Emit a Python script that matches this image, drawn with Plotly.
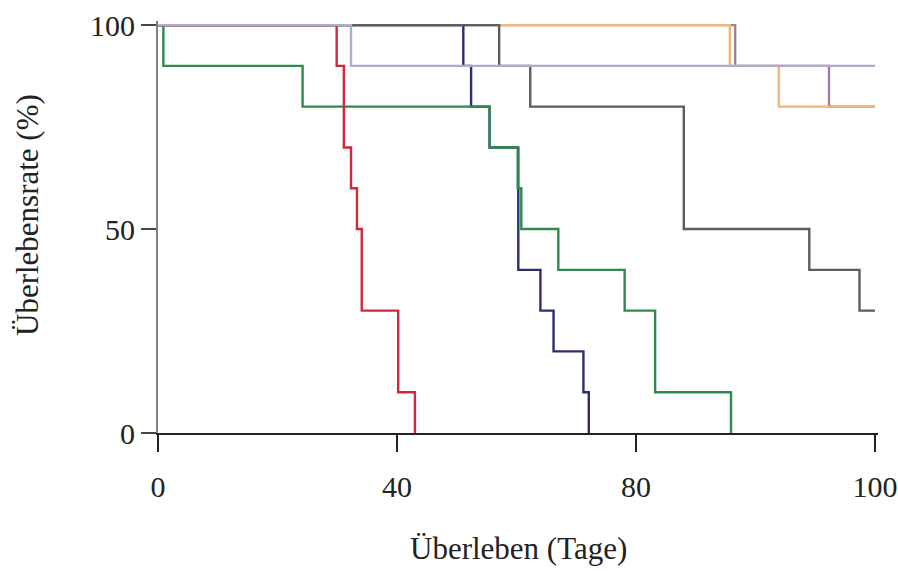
import plotly.graph_objects as go

# Kaplan-Meier survival curves (days, survival %)
red_t = [0, 29.9, 31.1, 32.3, 33.3, 34.1, 40.2, 43.0]
red_s = [100, 90, 70, 60, 50, 30, 10, 0]

green_t = [0, 0.9, 24.2, 55.5, 60.2, 60.8, 67.0, 78.1, 83.2, 95.9]
green_s = [100, 90, 80, 70, 60, 50, 40, 30, 10, 0]

navy_t = [0, 51.1, 52.4, 55.5, 60.3, 64.0, 66.2, 71.2, 72.1]
navy_s = [100, 90, 80, 70, 40, 30, 20, 10, 0]

gray_t = [0, 57.1, 62.3, 88.0, 109.0, 117.4, 120]
gray_s = [100, 90, 80, 50, 40, 30, 30]

lightblue_t = [0, 32.3, 120]
lightblue_s = [100, 90, 90]

orange_t = [0, 95.7, 103.9, 120]
orange_s = [100, 90, 80, 80]

mauve_t = [0, 96.6, 112.3, 120]
mauve_s = [100, 90, 80, 80]

x_tickvals = [0, 40, 80, 120]
x_ticktext = ["0", "40", "80", "100"]
y_tickvals = [0, 50, 100]

series = [
    (mauve_t, mauve_s, "#a07e9e"),
    (orange_t, orange_s, "#f2b678"),
    (navy_t, navy_s, "#2c2f6e"),
    (gray_t, gray_s, "#5c5c64"),
    (green_t, green_s, "#2f8a4e"),
    (red_t, red_s, "#d0283f"),
    (lightblue_t, lightblue_s, "#aab0cc"),
]

fig = go.Figure()
for t, s, c in series:
    fig.add_trace(go.Scatter(x=t, y=s, mode="lines", line=dict(color=c, width=2.4, shape="hv"),
                             showlegend=False, hoverinfo="skip"))

font = "Liberation Serif, Times New Roman, serif"
fig.update_layout(
    width=898, height=571,
    margin=dict(l=158, r=20, t=21, b=138),
    paper_bgcolor="white", plot_bgcolor="white",
    font=dict(family=font, size=30, color="#222"),
    xaxis=dict(range=[0, 120.5], tickvals=x_tickvals, ticktext=x_ticktext, automargin=False,
               showgrid=False, zeroline=False, showline=True, linecolor="#222", linewidth=2,
               ticks="outside", ticklen=17, tickwidth=1.5, tickcolor="#222",
               ticklabelstandoff=9, tickfont=dict(size=30)),
    yaxis=dict(range=[0, 101], tickvals=y_tickvals, automargin=False,
               showgrid=False, zeroline=False, showline=True, linecolor="#808080", linewidth=2,
               ticks="outside", ticklen=15, tickwidth=1.5, tickcolor="#444",
               ticklabelstandoff=0, tickfont=dict(size=30)),
    annotations=[
        dict(text="Überleben (Tage)", xref="paper", yref="paper", x=0.5, y=0,
             xanchor="center", yanchor="middle",
             yshift=-115, showarrow=False, font=dict(size=31, family=font, color="#222")),
        dict(text="Überlebensrate (%)", xref="paper", yref="paper", x=0, y=0.5,
             xanchor="center", yanchor="middle",
             xshift=-131, yshift=12, textangle=-90, showarrow=False,
             font=dict(size=31, family=font, color="#222")),
    ],
)

fig.write_html(
    "out.html",
    config={"displayModeBar": False},
    post_script="document.body.style.margin='0';document.body.style.overflow='hidden';",
)
